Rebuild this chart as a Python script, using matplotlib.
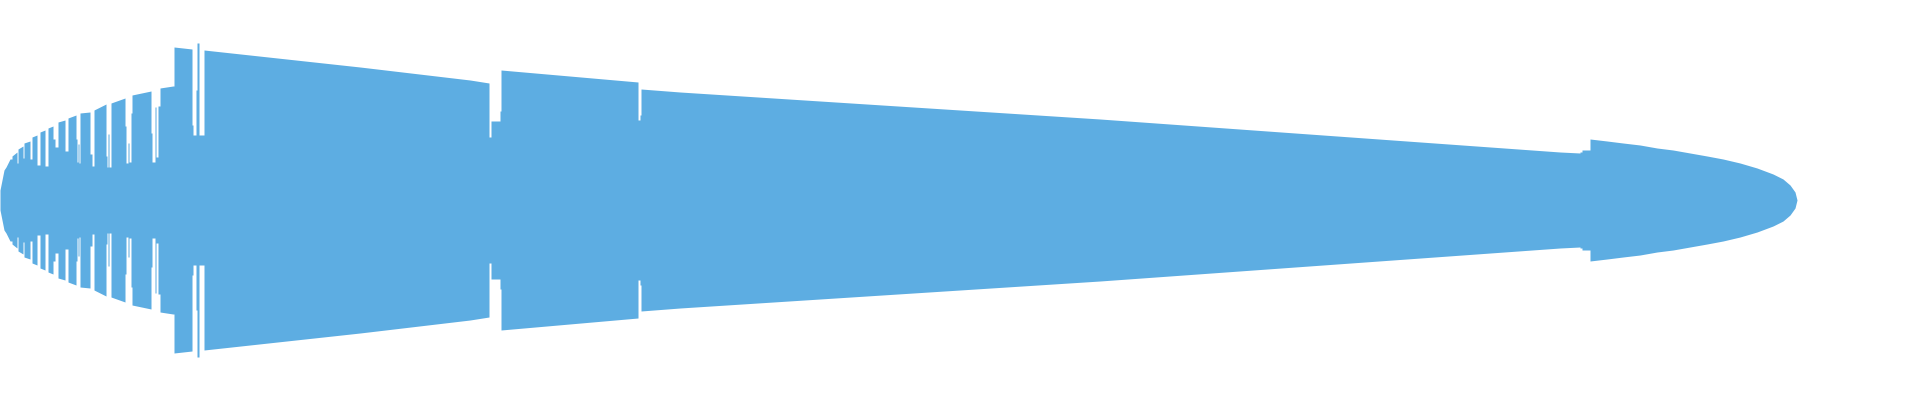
import numpy as np
import matplotlib
matplotlib.use('Agg')
import matplotlib.pyplot as plt

# envelope of the symmetric stream
# position along the axis and half thickness of the band at that position
position = [0, 1, 2, 3, 4, 6, 8, 10, 12,
            12, 17, 17, 18, 18, 23, 23, 24, 24, 30, 30, 32, 32, 37, 37, 40,
            40, 45, 45, 48, 48, 53, 53, 55, 55, 58, 58, 65, 65, 68, 68, 76,
            76, 77, 77, 78, 78, 79, 79, 80, 80, 90, 90, 92, 92, 94, 94, 106,
            106, 107, 107, 108, 108, 109, 109, 111, 111, 125, 125, 126, 126,
            128, 128, 129, 129, 131, 131, 132, 132, 151, 151, 152, 152, 155,
            155, 156, 156, 158, 158, 160, 160, 173, 174, 174, 192, 192, 193,
            193, 196, 196, 197, 197, 199, 199, 204, 204, 360, 470, 489, 489,
            491, 491, 500, 500, 501, 501, 638, 638, 640, 640, 641, 641, 680,
            1100, 1560, 1580, 1580, 1582, 1582, 1590, 1590, 1607, 1623, 1640,
            1657, 1673, 1690, 1707, 1723, 1740, 1757, 1773, 1783, 1790, 1795,
            1797]
half_width = [10, 15, 20, 25, 30, 33, 37, 41, 41,
              44, 48, 37, 37, 51, 54, 42, 42, 57, 59, 41, 41, 63, 65, 35, 35,
              68, 70, 34, 34, 72, 74, 61, 61, 53, 53, 78, 80, 49, 49, 82, 85,
              61, 61, 38, 38, 56, 56, 37, 37, 87, 88, 46, 46, 34, 34, 90, 96,
              44, 44, 33, 33, 66, 66, 33, 33, 97, 102, 74, 74, 37,
              37, 57, 57, 38, 38, 87, 87, 105, 109, 67, 67, 38, 38,
              93, 93, 43, 43, 94, 94, 112, 114, 114, 153, 151, 75, 75,
              65, 65, 110, 110, 157, 157, 65, 65, 150, 133, 120, 117, 63,
              63, 79, 79, 89, 89, 130, 118, 80, 80, 85, 85, 111, 108,
              81, 48, 47, 48, 48, 50, 50, 61, 59, 57, 55,
              52, 50, 47, 44, 41, 37, 32, 26, 21, 15, 8,
              0]

x = np.array(position, dtype=float)
h = np.array(half_width, dtype=float)

fig = plt.figure(figsize=(19.2, 4), dpi=100)
ax = fig.add_axes([0, 0, 1, 1])
ax.fill_between(x, -h, h, color='#5dade2', linewidth=0, antialiased=False)
ax.set_xlim(0, 1920)
ax.set_ylim(-200, 200)
ax.axis('off')

plt.savefig('out.png', dpi=100, facecolor='white')
